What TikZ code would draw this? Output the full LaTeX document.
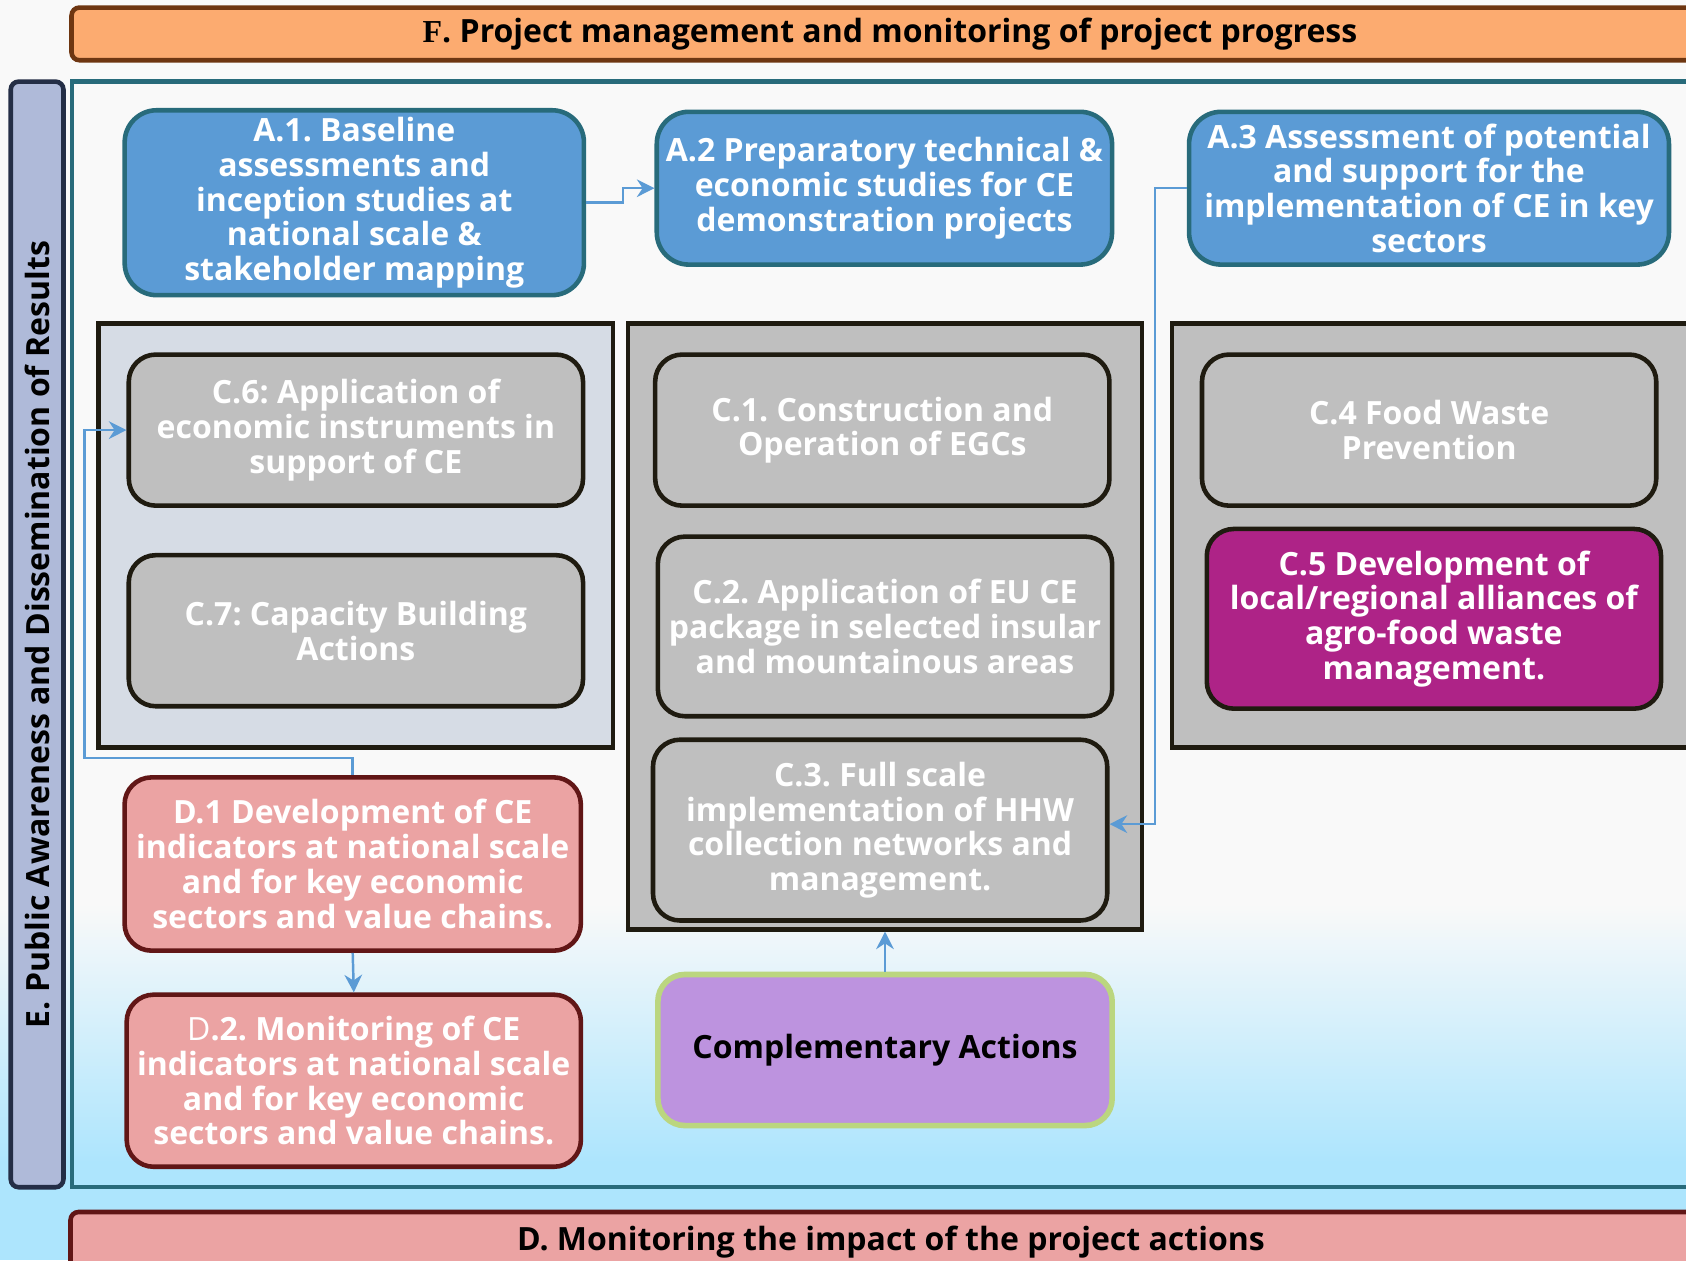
\documentclass[tikz,border=0pt]{standalone}
\usepackage{fontspec}
\setmainfont{Open Sans}
\newfontfamily\serifF{Liberation Serif}
\usetikzlibrary{arrows.meta,calc}
\frenchspacing

\definecolor{bgwhite}{HTML}{F9F9F9}
\definecolor{skyblue}{HTML}{ADE5FD}
\definecolor{fbar}{HTML}{FCAB70}
\definecolor{fbord}{HTML}{6E3611}
\definecolor{ebar}{HTML}{AFBAD9}
\definecolor{ebord}{HTML}{242E46}
\definecolor{tealc}{HTML}{286B7B}
\definecolor{ablue}{HTML}{5B9BD5}
\definecolor{glight}{HTML}{D6DCE5}
\definecolor{cgrey}{HTML}{BFBFBF}
\definecolor{cblack}{HTML}{1F1B10}
\definecolor{cmag}{HTML}{AE2387}
\definecolor{dpink}{HTML}{EBA3A3}
\definecolor{dred}{HTML}{611616}
\definecolor{cpurple}{HTML}{BD93DF}
\definecolor{cgreen}{HTML}{BBD67F}

\newcommand\boxfont{\fontsize{9.1}{9.87}\selectfont\bfseries}

\tikzset{
  box/.style={rounded corners=0.27cm, line width=1.3pt, align=center, text=white,
    font=\boxfont, minimum width=4.54cm, minimum height=1.51cm, inner sep=2pt},
  abox/.style={box, fill=ablue, draw=tealc, rounded corners=0.32cm},
  cbox/.style={box, fill=cgrey, draw=cblack},
  dbox/.style={box, fill=dpink, draw=dred, minimum height=1.72cm},
  grp/.style={draw=cblack, line width=1.3pt, inner sep=0pt},
  bar/.style={rounded corners=0.08cm, line width=1.3pt, inner sep=0pt, font=\boxfont},
  flow/.style={draw=ablue, line width=0.7pt, -{Stealth[length=5pt,width=5pt]}},
}

\begin{document}
\begin{tikzpicture}[x=0.01cm,y=-0.01cm]
\useasboundingbox (0,0) rectangle (1686,1260);
\clip (0,0) rectangle (1686,1260);
\fill[bgwhite] (0,0) rectangle (1686,905);
\shade[top color=bgwhite,bottom color=skyblue] (0,904) rectangle (1686,1162);
\fill[skyblue] (0,1161) rectangle (1686,1260);

\node[bar,fill=fbar,draw=fbord,minimum width=16.36cm,minimum height=0.527cm] (F) at (890,33.9) {{\serifF F}. Project management and monitoring of project progress};
\node[bar,fill=ebar,draw=ebord,rotate=90,minimum width=11.05cm,minimum height=0.527cm] (E) at (37.1,634.4) {E. Public Awareness and Dissemination of Results};
\draw[tealc,line width=1.3pt] (72,81.7) rectangle (1720,1187);
\node[bar,fill=dpink,draw=dred,minimum width=16.4cm,minimum height=0.6cm] (D) at (891,1242) {D. Monitoring the impact of the project actions};

\node[grp,fill=glight,minimum width=5.14cm,minimum height=4.236cm] (gL) at (355.9,535.5) {};
\node[grp,fill=cgrey,minimum width=5.14cm,minimum height=6.053cm] (gM) at (885,626.4) {};
\node[grp,fill=cgrey,minimum width=5.4cm,minimum height=4.236cm] (gR) at (1442,535.5) {};

\node[abox,minimum width=4.59cm,minimum height=1.82cm] (A1) at (354.3,202.7) {A.1. Baseline\\assessments and\\inception studies at\\national scale \&\\stakeholder mapping};
\node[abox,minimum width=4.55cm,minimum height=1.527cm] (A2) at (884.4,188.2) {A.2 Preparatory technical \&\\economic studies for CE\\demonstration projects};
\node[abox,minimum width=4.796cm,minimum height=1.527cm] (A3) at (1429,188.2) {A.3 Assessment of potential\\and support for the\\implementation of CE in key\\sectors};

\node[cbox] (C6) at (355.9,430.1) {C.6: Application of\\economic instruments in\\support of CE};
\node[cbox] (C7) at (355.9,630.7) {C.7: Capacity Building\\Actions};
\node[cbox] (C1) at (882.3,430.1) {C.1. Construction and\\Operation of EGCs};
\node[cbox,minimum height=1.795cm] (C2) at (885,626.4) {C.2. Application of EU CE\\package in selected insular\\and mountainous areas};
\node[cbox,minimum height=1.807cm] (C3) at (880.1,830.1) {C.3. Full scale\\implementation of HHW\\collection networks and\\management.};
\node[cbox] (C4) at (1429.1,430.1) {C.4 Food Waste\\Prevention};
\node[cbox,fill=cmag,minimum height=1.796cm] (C5) at (1433.9,618.8) {C.5 Development of\\local/regional alliances of\\agro-food waste\\management.};

\node[dbox,minimum width=4.56cm,minimum height=1.732cm] (D1) at (352.7,864) {D.1 Development of CE\\indicators at national scale\\and for key economic\\sectors and value chains.};
\node[dbox] (D2) at (353.8,1080.7) {{\mdseries D}.2. Monitoring of CE\\indicators at national scale\\and for key economic\\sectors and value chains.};
\node[box,fill=cpurple,draw=cgreen,line width=1.6pt,text=black] (Comp) at (885,1050) {Complementary Actions};

\draw[flow] (A1.east) -- ++(36.5,0) |- (A2.west);
\draw[flow] (A3.west) -- ++(-32,0) |- ($(C3.east)+(0,-6)$);
\draw[flow] (D1.north) -- ++(0,-17) -| ($(C6.west)+(-42,0)$) -- (C6.west);
\draw[flow] (D1.south) -- (D2.north);
\draw[flow] (Comp.north) -- (gM.south);
\end{tikzpicture}
\end{document}
